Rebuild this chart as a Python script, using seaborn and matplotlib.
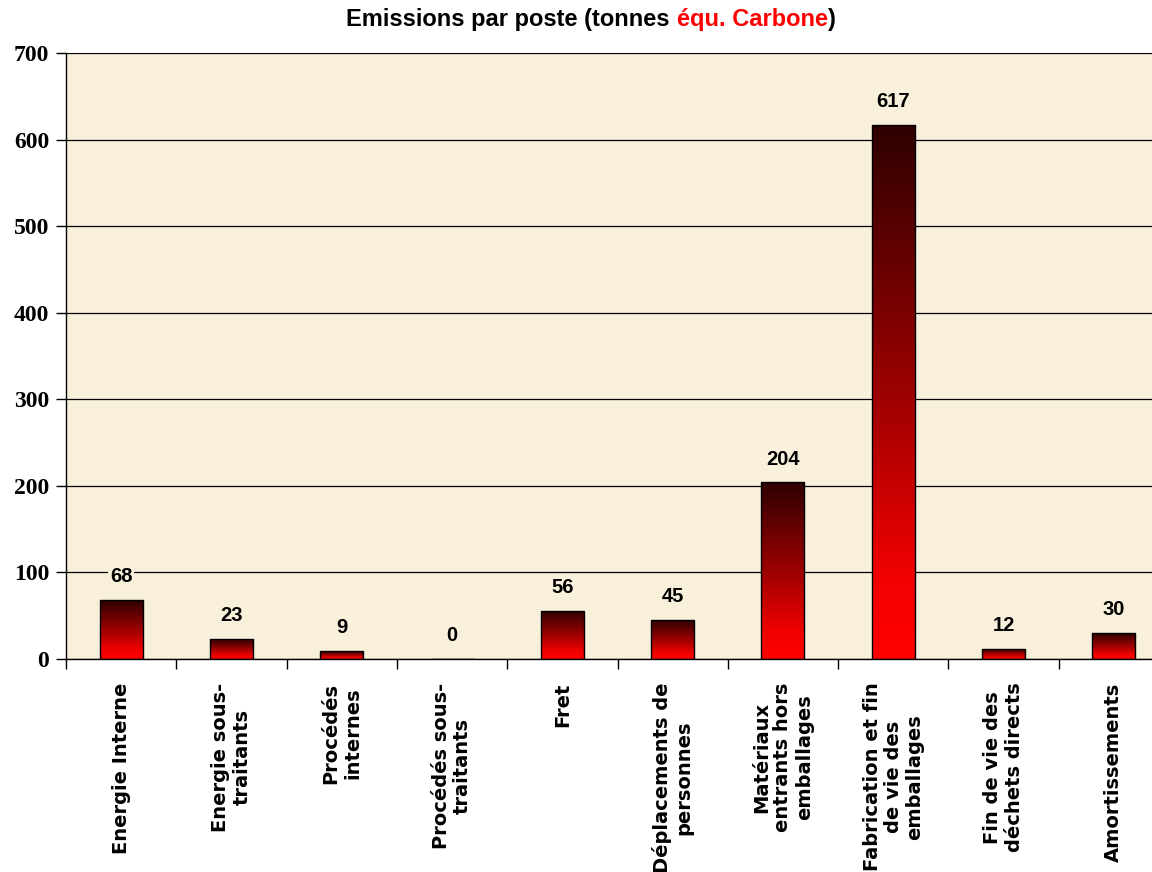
import numpy as np
import pandas as pd
import matplotlib
matplotlib.use("Agg")
import matplotlib.pyplot as plt
import seaborn as sns
from matplotlib.colors import LinearSegmentedColormap
from matplotlib.offsetbox import TextArea, HPacker, AnchoredOffsetbox

# ------------------------------------------------------------
# Data
# ------------------------------------------------------------
postes = [
    "Energie Interne",
    "Energie sous-\ntraitants",
    "Procédés\ninternes",
    "Procédés sous-\ntraitants",
    "Fret",
    "Déplacements de\npersonnes",
    "Matériaux\nentrants hors\nemballages",
    "Fabrication et fin\nde vie des\nemballages",
    "Fin de vie des\ndéchets directs",
    "Amortissements",
]
emissions = [68, 23, 9, 0, 56, 45, 204, 617, 12, 30]
y_ticks = [0, 100, 200, 300, 400, 500, 600, 700]

df = pd.DataFrame({"poste": postes, "tonnes": emissions})

# ------------------------------------------------------------
# Style
# ------------------------------------------------------------
sns.set_theme(style="white")
plt.rcParams['font.family'] = ['DejaVu Sans']

bg = "#f9f0dc"
rouge = LinearSegmentedColormap.from_list(
    "rouge", [(0, "#ff0000"), (0.15, "#f20000"), (0.5, "#9c0000"), (1, "#2e0000")])

fig = plt.figure(figsize=(11.52, 8.72), dpi=100)
# plot area runs past the right edge of the picture (as in the original export)
ax = fig.add_axes([66 / 1152, 1 - 659 / 872, 1103 / 1152, 606 / 872])
ax.set_facecolor(bg)

sns.barplot(data=df, x="poste", y="tonnes", color="red", width=0.39,
            edgecolor="black", linewidth=1, ax=ax)

# gradient fill for each bar (dark top -> red bottom)
grad = np.linspace(0, 1, 256).reshape(-1, 1)
for p, v in zip(ax.patches, emissions):
    p.set_facecolor("none")
    p.set_zorder(2)
    if v > 0:
        x0, y0 = p.get_x(), p.get_y()
        im = ax.imshow(grad, cmap=rouge, origin="lower", aspect="auto",
                       extent=[x0, x0 + p.get_width(), y0, y0 + p.get_height()],
                       zorder=1.5)
        im.set_clip_path(p)
    # value label
    ax.annotate(str(v), (p.get_x() + p.get_width() / 2, v),
                xytext=(0, 10), textcoords="offset points",
                ha="center", va="bottom", fontsize=14.5, fontweight="bold",
                family="Liberation Sans", color="black",
                bbox=dict(facecolor=bg, edgecolor="none", pad=1), zorder=3)

ax.set_xlim(-0.5, len(postes) - 0.5)
ax.set_ylim(0, 700)

# grid + spines
ax.set_axisbelow(True)
ax.yaxis.grid(True, color="black", linewidth=0.9)
for s in ["top", "right"]:
    ax.spines[s].set_visible(False)
for s in ["left", "bottom"]:
    ax.spines[s].set_color("black")
    ax.spines[s].set_linewidth(1)

# y axis
ax.set_yticks(y_ticks)
ax.set_yticklabels([str(t) for t in y_ticks], family="Liberation Serif",
                   fontweight="bold", fontsize=17, color="black")
ax.tick_params(axis="y", left=True, direction="out", length=7, width=1,
               color="black", pad=5)

# x axis: ticks at category boundaries, labels at centres
ax.set_xticks(np.arange(-0.5, len(postes), 1))
ax.set_xticklabels([])
ax.set_xticks(np.arange(len(postes)), minor=True)
ax.set_xticklabels(postes, minor=True, rotation=90, ha="center", va="top",
                   multialignment="center", fontweight="bold", fontsize=14,
                   linespacing=1.15, color="black")
ax.tick_params(axis="x", which="major", bottom=True, direction="out",
               length=7, width=1, color="black")
ax.tick_params(axis="x", which="minor", bottom=True, length=0, pad=17)
ax.set_xlabel("")
ax.set_ylabel("")

# title with coloured part
tp = dict(fontsize=17, fontweight="bold", family="Liberation Sans")
parts = [TextArea("Emissions par poste (tonnes ", textprops=dict(color="black", **tp)),
         TextArea("équ. Carbone", textprops=dict(color="red", **tp)),
         TextArea(")", textprops=dict(color="black", **tp))]
box = HPacker(children=parts, align="baseline", pad=0, sep=0)
title = AnchoredOffsetbox(loc="upper center", child=box, pad=0, frameon=False,
                          bbox_to_anchor=(591 / 1152, 1 - 8 / 872),
                          bbox_transform=fig.transFigure, borderpad=0)
fig.add_artist(title)

fig.savefig("out.png", dpi=100)
